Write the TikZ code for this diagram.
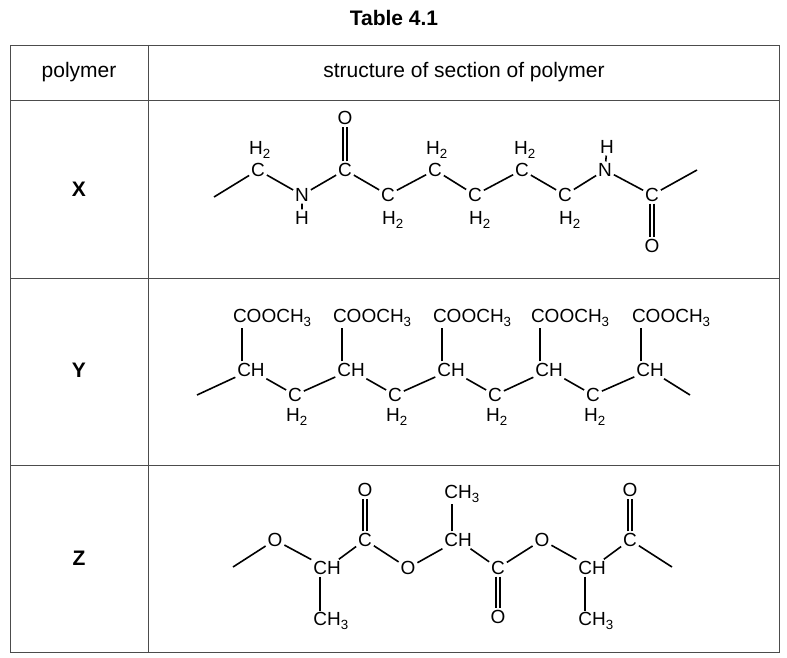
\documentclass[tikz,border=0pt]{standalone}
\usepackage{fontspec}
\setmainfont{Liberation Sans}
\begin{document}
\begin{tikzpicture}[x=1pt,y=-1pt,line width=1.6pt,
  a/.style={inner sep=1.2pt,font=\fontsize{19}{19}\selectfont},
  lab/.style={font=\fontsize{21}{23}\selectfont},
  b/.style={line width=1.6pt},
  grid/.style={line width=0.9pt,draw=black!70}]
\useasboundingbox (0,0) rectangle (787,658);
\node[font=\bfseries\fontsize{21}{23}\selectfont] (title) at (394,18) {Table 4.1};
\draw[grid] (10,45) rectangle (779,652);
\draw[grid] (148,45) -- (148,652);
\draw[grid] (10,100) -- (779,100) (10,278) -- (779,278) (10,465) -- (779,465);
\node[lab] (h1) at (79,72) {polymer};
\node[lab] (h2) at (464,72) {structure of section of polymer};
\node[lab,font=\bfseries\fontsize{21}{23}\selectfont] (lx) at (79,189) {X};
\node[lab,font=\bfseries\fontsize{21}{23}\selectfont] (ly) at (79,370) {Y};
\node[lab,font=\bfseries\fontsize{21}{23}\selectfont] (lz) at (79,558) {Z};
% ---- X
\coordinate (xs) at (214,197);
\node[a] (x1) at (258,170) {C};  \node[a] (x1h) at (260,150) {H\textsubscript{2}};
\node[a] (x2) at (302,195) {N};  \node[a] (x2h) at (302,218) {H};
\node[a] (x3) at (345,170) {C};  \node[a] (x3o) at (345,118) {O};
\node[a] (x4) at (388,195) {C};  \node[a] (x4h) at (393,220) {H\textsubscript{2}};
\node[a] (x5) at (435,170) {C};  \node[a] (x5h) at (437,150) {H\textsubscript{2}};
\node[a] (x6) at (475,195) {C};  \node[a] (x6h) at (480,220) {H\textsubscript{2}};
\node[a] (x7) at (522,170) {C};  \node[a] (x7h) at (525,150) {H\textsubscript{2}};
\node[a] (x8) at (565,195) {C};  \node[a] (x8h) at (570,220) {H\textsubscript{2}};
\node[a] (x9) at (605,170) {N};  \node[a] (x9h) at (607,147) {H};
\node[a] (x10) at (652,195) {C}; \node[a] (x10o) at (652,246) {O};
\coordinate (xe) at (697,170);
\draw[b] (xs)--(x1)--(x2)--(x3)--(x4)--(x5)--(x6)--(x7)--(x8)--(x9)--(x10)--(xe);
\draw[b] (x2)--(x2h) (x9)--(x9h);
\draw[b] ([xshift=-2]x3.north)--([xshift=-2]x3o.south) ([xshift=2]x3.north)--([xshift=2]x3o.south);
\draw[b] ([xshift=-2]x10.south)--([xshift=-2]x10o.north) ([xshift=2]x10.south)--([xshift=2]x10o.north);
% ---- Y
\coordinate (ys) at (197,395);
\coordinate (ye) at (690,395);
\foreach \i/\x in {1/251,2/351,3/451,4/549,5/650}{
  \node[a] (ych\i) at (\x,370) {CH};
  \node[a,anchor=west] (yc\i) at (\x-20,318) {COOCH\textsubscript{3}};
  \draw[b] ([xshift=-9]ych\i.north) -- ([xshift=-9]ych\i.north |- yc\i.south);
}
\foreach \i/\x in {1/295,2/395,3/495,4/593}{
  \node[a] (yk\i) at (\x,395) {C};
  \node[a] (ykh\i) at (\x+2,417) {H\textsubscript{2}};
}
\draw[b] (ys)--(ych1)--(yk1)--(ych2)--(yk2)--(ych3)--(yk3)--(ych4)--(yk4)--(ych5)--(ye);
% ---- Z
\coordinate (zs) at (233,567);
\node[a] (z1) at (275,540) {O};
\node[a] (z2) at (327,568) {CH}; \node[a] (z2m) at (331,621) {CH\textsubscript{3}};
\node[a] (z3) at (365,540) {C};  \node[a] (z3o) at (365,490) {O};
\node[a] (z4) at (408,568) {O};
\node[a] (z5) at (458,540) {CH}; \node[a] (z5m) at (462,494) {CH\textsubscript{3}};
\node[a] (z6) at (498,568) {C};  \node[a] (z6o) at (498,617) {O};
\node[a] (z7) at (542,540) {O};
\node[a] (z8) at (592,568) {CH}; \node[a] (z8m) at (596,621) {CH\textsubscript{3}};
\node[a] (z9) at (630,540) {C};  \node[a] (z9o) at (630,490) {O};
\coordinate (ze) at (672,567);
\draw[b] (zs)--(z1)--(z2)--(z3)--(z4)--(z5)--(z6)--(z7)--(z8)--(z9)--(ze);
\draw[b] ([xshift=-7]z2.south)--([xshift=-7]z2.south |- z2m.north);
\draw[b] ([xshift=-7]z8.south)--([xshift=-7]z8.south |- z8m.north);
\draw[b] ([xshift=-6]z5.north)--([xshift=-6]z5.north |- z5m.south);
\draw[b] ([xshift=-2]z3.north)--([xshift=-2]z3o.south) ([xshift=2]z3.north)--([xshift=2]z3o.south);
\draw[b] ([xshift=-2]z9.north)--([xshift=-2]z9o.south) ([xshift=2]z9.north)--([xshift=2]z9o.south);
\draw[b] ([xshift=-2]z6.south)--([xshift=-2]z6o.north) ([xshift=2]z6.south)--([xshift=2]z6o.north);
\end{tikzpicture}
\end{document}
